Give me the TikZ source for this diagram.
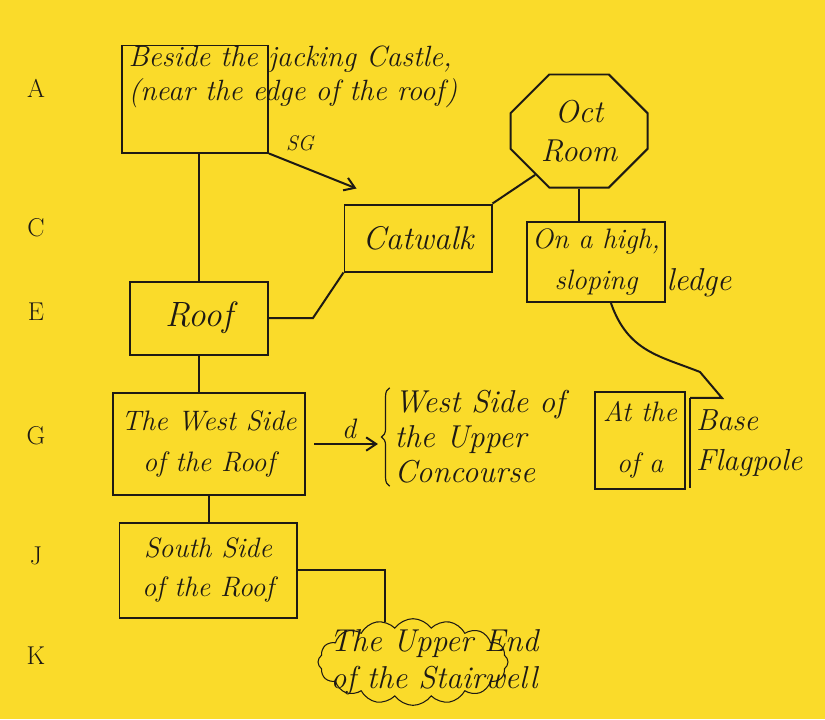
\documentclass[tikz,border=0pt]{standalone}
\usepackage{tikz}
\usetikzlibrary{arrows.meta,positioning,calc,shapes.misc,shapes.symbols,decorations.pathreplacing}
\usepackage{xcolor}
\definecolor{paper}{RGB}{250,219,42}
\definecolor{ink}{RGB}{30,26,20}

\begin{document}
\begin{tikzpicture}[
  x=0.03cm, y=-0.03cm,
  font=\itshape\fontsize{24}{29}\selectfont,
  box/.style={draw=ink, line width=1.7pt, text=ink, align=center, inner sep=4pt},
  plain/.style={text=ink, align=center, inner sep=2pt},
  rowlabel/.style={text=ink, font=\fontsize{22}{26}\selectfont},
  octagon/.style={box, chamfered rectangle, chamfered rectangle xsep=0.58cm, chamfered rectangle ysep=0.58cm},
  link/.style={draw=ink, line width=1.7pt},
  arrow/.style={link, -{Straight Barb[length=3mm,width=4mm]}}
]
\useasboundingbox (0,0) rectangle (825,719);
\fill[paper] (0,0) rectangle (825,719);

% floor letters down the left margin
\foreach \lbl/\ypos in {A/88,C/228,E/312,G/436,J/556,K/656}
  \node[rowlabel] (row\lbl) at (36,\ypos) {\lbl};

% left column
\node[box, minimum width=4.38cm, minimum height=3.21cm] (beside) at (195,99) {};
\node[plain, anchor=north west, align=left, font=\itshape\fontsize{25}{29}\selectfont] (besidetxt) at (126,43)
  {Beside the jacking Castle,\\(near the edge of the roof)};
\node[box, minimum width=4.14cm, minimum height=2.19cm, font=\itshape\fontsize{30}{34}\selectfont] (roof) at (199,318) {Roof};
\node[box, minimum width=5.76cm, minimum height=3.06cm] (west) at (209,444) {The West Side\\[6pt]of the Roof};
\node[box, minimum width=5.31cm, minimum height=2.85cm] (south) at (208,570) {South Side\\[4pt]of the Roof};
\node[draw=ink, line width=0.9pt, cloud, cloud puffs=16, cloud puff arc=110, aspect=2.2,
  minimum width=5.7cm, minimum height=2.6cm] (stair) at (413,662) {};
\node[plain, font=\itshape\fontsize{27}{32}\selectfont] (stairtxt) at (434,662) {The Upper End\\of the Stairwell};

% middle and right
\node[plain, font=\itshape\fontsize{18}{20}\selectfont] (sg) at (300,143) {SG};
\node[box, minimum width=4.41cm, minimum height=2.01cm, font=\itshape\fontsize{28}{32}\selectfont] (catwalk) at (418,238) {Catwalk};
\node[octagon, minimum width=4.11cm, minimum height=3.39cm, inner sep=0pt, font=\itshape\fontsize{27}{33}\selectfont] (oct) at (579,131) {Oct\\Room};
\node[box, minimum width=3.96cm, minimum height=2.4cm] (ledge) at (596,262) {On a high,\\[6pt]sloping};
\node[plain, anchor=west, font=\itshape\fontsize{27}{30}\selectfont] (ledgetail) at (664,283) {ledge};
\node[plain, anchor=west, align=left, font=\itshape\fontsize{27}{30}\selectfont] (concourse) at (392,437) {West Side of\\the Upper\\Concourse};
\node[box, minimum width=2.7cm, minimum height=2.91cm] (flag) at (640,440) {At the\\[14pt]of a};
\node[plain, anchor=west, align=left, minimum height=2.7cm, inner sep=5pt, font=\itshape\fontsize{26}{30}\selectfont] (flagtail) at (690,443) {Base\\[4pt]Flagpole};

% connectors
\draw[link] (roof.north) -- (roof.north |- beside.south);
\draw[link] (roof.south) -- (roof.south |- west.north);
\draw[link] (west.south) -- (west.south |- south.north);
\draw[arrow] (beside.south east) -- ($(catwalk.north west)+(13,-15)$);
\draw[link] (roof.east) -- ++(44,0) -- (catwalk.south west);
\draw[link] (oct.225) -- (catwalk.north east);
\draw[link] (oct.south) -- (oct.south |- ledge.north);
\draw[link] (ledge.290) .. controls (628,352) and (660,356) .. (700,372) -- (722,398) -- (flagtail.north west);
\draw[link] (flagtail.north west) -- (flagtail.south west);
\draw[arrow, shorten <=7pt, shorten >=12pt] (west.east) -- node[plain, above=2pt] (dlabel) {d} (west.east -| concourse.west);
\draw[link, line width=1pt, decorate, decoration={brace, amplitude=7pt}]
  ([xshift=-2pt]concourse.south west) -- ([xshift=-2pt]concourse.north west);
\draw[link] (south.east) -| (stair.125);
\end{tikzpicture}
\end{document}
